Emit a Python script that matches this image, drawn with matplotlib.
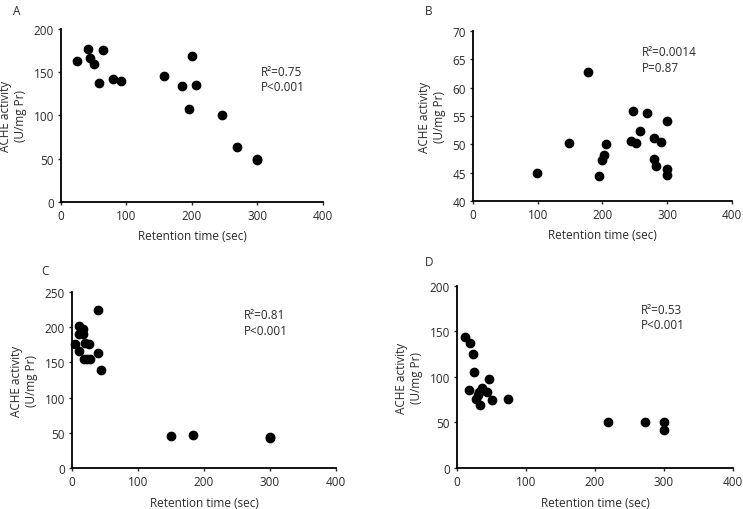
import matplotlib
matplotlib.use("Agg")
import matplotlib.pyplot as plt

plt.rcParams['font.family'] = ['Open Sans', 'DejaVu Sans']

# Panel A
a_time = [24, 41, 45, 51, 64, 58, 79, 91, 158, 184, 200, 206, 196, 246, 269, 300, 300]
a_ache = [163, 177, 166, 159, 176, 137, 142, 140, 146, 134, 169, 135, 108, 101, 64, 50, 48]

# Panel B
b_time = [99, 148, 178, 194, 200, 202, 205, 244, 247, 252, 258, 269, 279, 279, 283, 291, 299, 299, 299]
b_ache = [44.9, 50.2, 62.8, 44.4, 47.2, 48.2, 50.1, 50.6, 55.8, 50.3, 52.4, 55.5, 51.2, 47.5, 46.2, 50.4, 54.2, 45.6, 44.6]

# Panel C
c_time = [39, 11, 16, 10, 17, 5, 19, 26, 11, 18, 22, 27, 39, 44, 150, 183, 300, 300]
c_ache = [224, 201, 197, 190, 191, 176, 178, 176, 166, 155, 155, 155, 163, 139, 45, 47, 43, 44]

# Panel D
d_time = [11, 19, 23, 25, 46, 17, 36, 32, 44, 28, 31, 33, 50, 74, 219, 272, 300, 300]
d_ache = [144, 137, 125, 105, 98, 86, 88, 83, 83, 76, 80, 69, 75, 76, 50, 50, 51, 42]

panels = [
    ("A", a_time, a_ache, (0, 200), [0, 50, 100, 150, 200], "R²=0.75", "P<0.001",
     [0.0821, 0.6020, 0.3526, 0.3392], (0.763, 0.757, 0.67), (0.017, 0.99), 5),
    ("B", b_time, b_ache, (40, 70), [40, 45, 50, 55, 60, 65, 70], "R²=0.0014", "P=0.87",
     [0.6366, 0.6039, 0.3486, 0.3333], (0.653, 0.882, 0.788), (0.572, 0.99), 5),
    ("C", c_time, c_ache, (0, 250), [0, 50, 100, 150, 200, 250], "R²=0.81", "P<0.001",
     [0.0969, 0.0804, 0.3553, 0.3451], (0.652, 0.871, 0.784), (0.055, 0.48), 6),
    ("D", d_time, d_ache, (0, 200), [0, 50, 100, 150, 200], "R²=0.53", "P<0.001",
     [0.6151, 0.0804, 0.3715, 0.3569], (0.667, 0.872, 0.787), (0.572, 0.498), 6),
]

fig = plt.figure(figsize=(7.43, 5.10), dpi=100)

for letter, x, y, ylim, yticks, r2, p, rect, txt, lab, xpad in panels:
    ax = fig.add_axes(rect)
    ax.scatter(x, y, s=36, color='black', zorder=3, clip_on=False)
    ax.set_xlim(0, 400)
    ax.set_ylim(*ylim)
    ax.set_xticks([0, 100, 200, 300, 400])
    ax.set_yticks(yticks)
    for s in ['top', 'right']:
        ax.spines[s].set_visible(False)
    for s in ['left', 'bottom']:
        ax.spines[s].set_linewidth(1.3)
    ax.tick_params(direction='out', length=2.5, width=1, labelsize=8.5,
                   colors='#2a2a2a', pad=2.5)
    ax.set_xlabel("Retention time (sec)", fontsize=8.5, color='#2a2a2a', labelpad=xpad)
    ax.set_ylabel("ACHE activity\n(U/mg Pr)", fontsize=8.5, color='#2a2a2a',
                  linespacing=1.15, labelpad=5)
    ax.text(txt[0], txt[1], r2, transform=ax.transAxes, fontsize=8.5,
            va='center', color='#2a2a2a')
    ax.text(txt[0], txt[2], p, transform=ax.transAxes, fontsize=8.5,
            va='center', color='#2a2a2a')
    fig.text(lab[0], lab[1], letter, fontsize=8.5, va='top', color='#2a2a2a')

fig.savefig("out.png", dpi=100)
